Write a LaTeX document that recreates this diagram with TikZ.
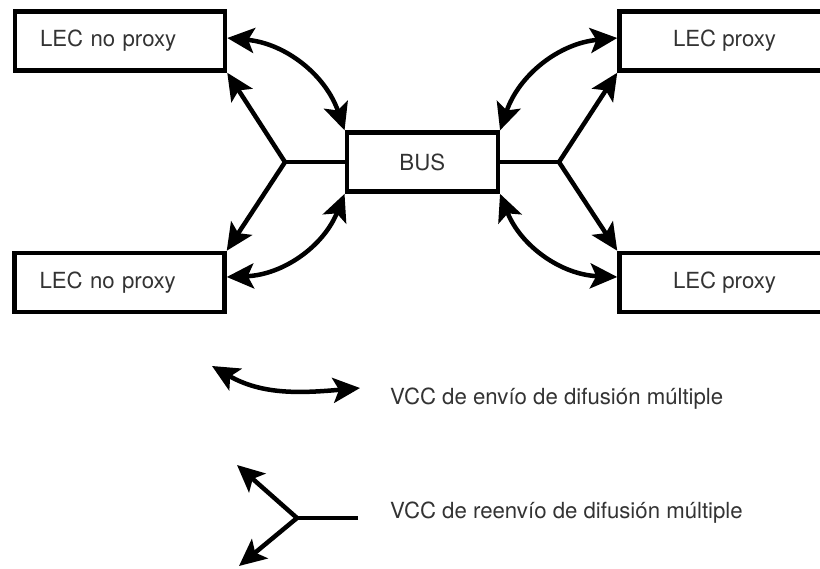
\documentclass[tikz,border=0pt]{standalone}
\usepackage{fontspec}
\setmainfont{TeX Gyre Heros}
\usetikzlibrary{arrows.meta}
\begin{document}
\begin{tikzpicture}[x=1pt,y=1pt,
  lbl/.style={font=\fontsize{22.2}{26}\selectfont, text=black!80},
  box/.style={draw, line width=4.5pt, minimum width=210pt, minimum height=59pt, inner sep=0pt, lbl},
  leftbox/.style={box, text width=160pt, align=left, inner xsep=25pt},
  conn/.style={line width=4.5pt, line join=round},
  tip/.tip={Stealth[length=27pt,width=25pt,inset=6pt]},
  arr/.style={conn, tip-tip},
]
\clip (0,0) rectangle (820,-569);
\fill[white] (0,0) rectangle (820,-569);

\node[leftbox] (tl) at (120,-41) {LEC no proxy};
\node[leftbox] (bl) at (119.5,-282.5) {LEC no proxy};
\node[box, minimum width=151pt] (bus) at (422.3,-162.1) {BUS};
\node[box] (tr) at (724.5,-41) {LEC proxy};
\node[box] (br) at (724.5,-282.5) {LEC proxy};

\coordinate (jl) at (285,-162.1);
\coordinate (jr) at (559,-162.1);

\draw[conn] (bus.west) -- (jl);
\draw[arr] (tl.south east) -- (jl) -- (bl.north east);
\draw[conn] (bus.east) -- (jr);
\draw[arr] (tr.south west) -- (jr) -- (br.north west);

\draw[arr] ([yshift=3pt]tl.east) to[bend left=33] (bus.north west);
\draw[arr] ([yshift=5.5pt]bl.east) to[bend right=33] (bus.south west);
\draw[arr] (bus.north east) to[bend left=33] ([yshift=3pt]tr.west);
\draw[arr] (bus.south east) to[bend right=33] ([yshift=5.5pt]br.west);

% legend
\coordinate (la) at (212,-366);
\coordinate (lb) at (360,-388);
\draw[arr] (la) to[out=-30,in=185] (lb);
\node[lbl, anchor=base west, inner sep=0pt] (t1) at (390,-405) {VCC de envío de difusión múltiple};

\coordinate (ly) at (297,-518);
\coordinate (lr) at (358,-518);
\coordinate (lu) at (237,-465);
\coordinate (ld) at (239,-566);
\draw[conn] (lr) -- (ly);
\draw[arr] (lu) -- (ly) -- (ld);
\node[lbl, anchor=base west, inner sep=0pt] (t2) at (390,-518) {VCC de reenvío de difusión múltiple};
\end{tikzpicture}
\end{document}
